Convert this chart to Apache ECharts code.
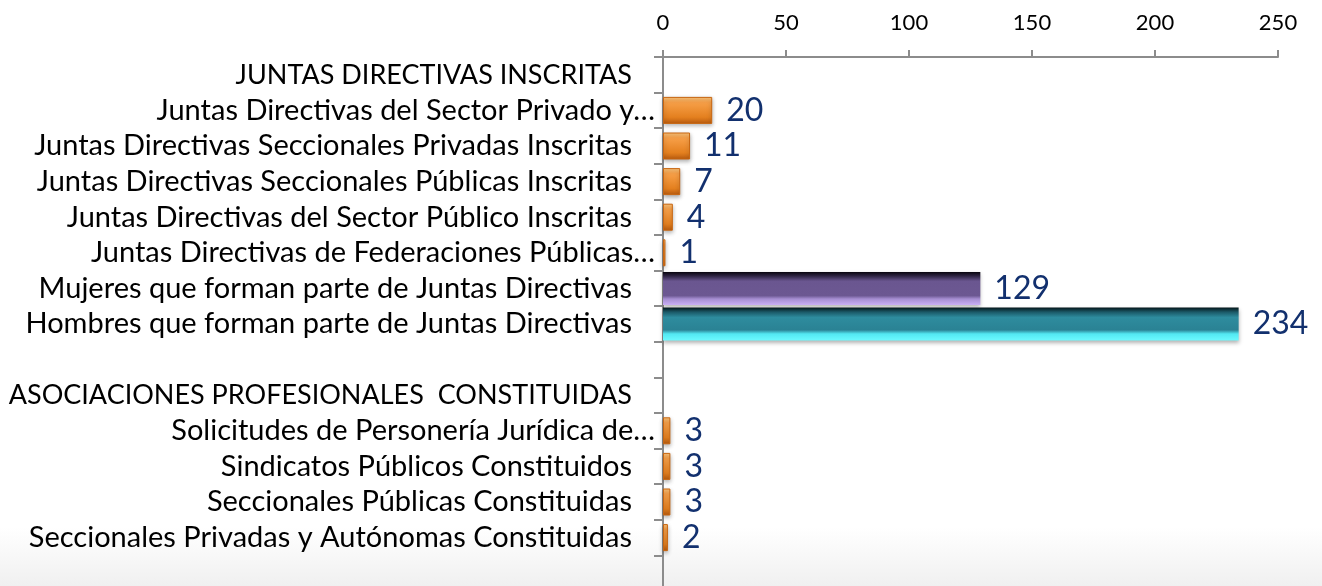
<!DOCTYPE html>
<html>
<head>
<meta charset="utf-8">
<script src="https://cdn.jsdelivr.net/npm/echarts@6/dist/echarts.min.js"></script>
<style>
  html, body { margin: 0; padding: 0; background: #fff; }
  #chart1 { width: 1322px; height: 586px; }
</style>
</head>
<body>
<div id="chart1"></div>
<script>
// categorias (de arriba hacia abajo); las vacias son separadores
var categories = [
    'JUNTAS DIRECTIVAS INSCRITAS',
    'Juntas Directivas del Sector Privado y…',
    'Juntas Directivas Seccionales Privadas Inscritas',
    'Juntas Directivas Seccionales Públicas Inscritas',
    'Juntas Directivas del Sector Público Inscritas',
    'Juntas Directivas de Federaciones Públicas…',
    'Mujeres que forman parte de Juntas Directivas',
    'Hombres que forman parte de Juntas Directivas',
    ' ',
    'ASOCIACIONES PROFESIONALES  CONSTITUIDAS',
    'Solicitudes de Personería Jurídica de…',
    'Sindicatos Públicos Constituidos',
    'Seccionales Públicas Constituidas',
    'Seccionales Privadas y Autónomas Constituidas',
    '  '
]
var organizaciones = ['-', 20, 11, 7, 4, 1, '-', '-', '-', '-', 3, 3, 3, 2, '-']
var mujeres = ['-', '-', '-', '-', '-', '-', 129, '-', '-', '-', '-', '-', '-', '-', '-']
var hombres = ['-', '-', '-', '-', '-', '-', '-', 234, '-', '-', '-', '-', '-', '-', '-']
var xTicks = [0, 50, 100, 150, 200, 250]

var font = 'Lato'
var myChart1 = echarts.init(document.getElementById('chart1'))

var valueLabel = {
    show: true,
    position: 'right',
    distance: 14,
    fontFamily: font,
    fontSize: 32,
    color: '#12306e'
}

function grad(stops) {
    return new echarts.graphic.LinearGradient(0, 0, 0, 1, stops.map(function (s) {
        return { offset: s[0], color: s[1] }
    }))
}

var option = {
    animation: false,
    backgroundColor: grad([[0, '#ffffff'], [0.9, '#ffffff'], [1, '#f0f0f0']]),
    grid: {
        left: 663,
        right: 44,
        top: 57,
        bottom: -5,
        outerBoundsMode: 'none'
    },
    xAxis: {
        type: 'value',
        position: 'top',
        min: xTicks[0],
        max: xTicks[xTicks.length - 1],
        interval: xTicks[1] - xTicks[0],
        axisLine: { show: true, lineStyle: { color: '#8c8c8c', width: 2 } },
        axisTick: { show: true, length: 7, lineStyle: { color: '#8c8c8c', width: 2 } },
        splitLine: { show: false },
        axisLabel: { margin: 23, fontFamily: font, fontSize: 22, color: '#000' }
    },
    yAxis: [
        {
            type: 'category',
            inverse: true,
            data: categories,
            axisLine: { show: true, lineStyle: { color: '#8c8c8c', width: 2 } },
            axisTick: { show: true, length: 9, interval: 0, lineStyle: { color: '#8c8c8c', width: 2 } },
            axisLabel: {
                interval: 0,
                hideOverlap: false,
                margin: 8,
                fontFamily: font,
                fontSize: 29,
                color: '#000',
                formatter: function (v) {
                    // las etiquetas truncadas llegan casi hasta el eje
                    if (v.slice(-1) === '…') return v
                    if (v.trim() && v === v.toUpperCase()) return '{c|' + v + '}{p| }'
                    return v + '{p| }'
                },
                rich: {
                    p: { width: 23 },
                    c: { fontFamily: font, fontSize: 27, color: '#000' }
                }
            }
        },
        {
            type: 'category',
            inverse: true,
            data: categories,
            show: false
        }
    ],
    series: [
        {
            name: 'Organizaciones',
            type: 'bar',
            yAxisIndex: 0,
            barWidth: 27,
            data: organizaciones,
            itemStyle: {
                color: grad([[0, '#fcc77e'], [0.2, '#f7a049'], [0.75, '#e4801f'], [1, '#b85a0e']]),
                borderColor: '#c8650f',
                borderWidth: 1,
                shadowBlur: 4,
                shadowOffsetY: 2,
                shadowColor: 'rgba(0,0,0,0.3)'
            },
            label: valueLabel
        },
        {
            name: 'Mujeres',
            type: 'bar',
            stack: 'genero',
            yAxisIndex: 1,
            barWidth: 33,
            data: mujeres,
            itemStyle: {
                color: grad([[0, '#07040c'], [0.12, '#2c2240'], [0.28, '#6a5690'], [0.72, '#6c5892'], [0.82, '#a68ed2'], [1, '#c9aef4']]),
                shadowBlur: 4,
                shadowOffsetY: 2,
                shadowColor: 'rgba(0,0,0,0.3)'
            },
            label: valueLabel
        },
        {
            name: 'Hombres',
            type: 'bar',
            stack: 'genero',
            yAxisIndex: 1,
            barWidth: 33,
            data: hombres,
            itemStyle: {
                color: grad([[0, '#04161a'], [0.14, '#1b5a68'], [0.3, '#2e8c9e'], [0.68, '#2a8294'], [0.8, '#52e8f2'], [1, '#6cfaff']]),
                shadowBlur: 4,
                shadowOffsetY: 2,
                shadowColor: 'rgba(0,0,0,0.3)'
            },
            label: valueLabel
        }
    ]
}
myChart1.setOption(option)
window.addEventListener('resize', function () {
    myChart1.resize()
})
</script>
</body>
</html>
